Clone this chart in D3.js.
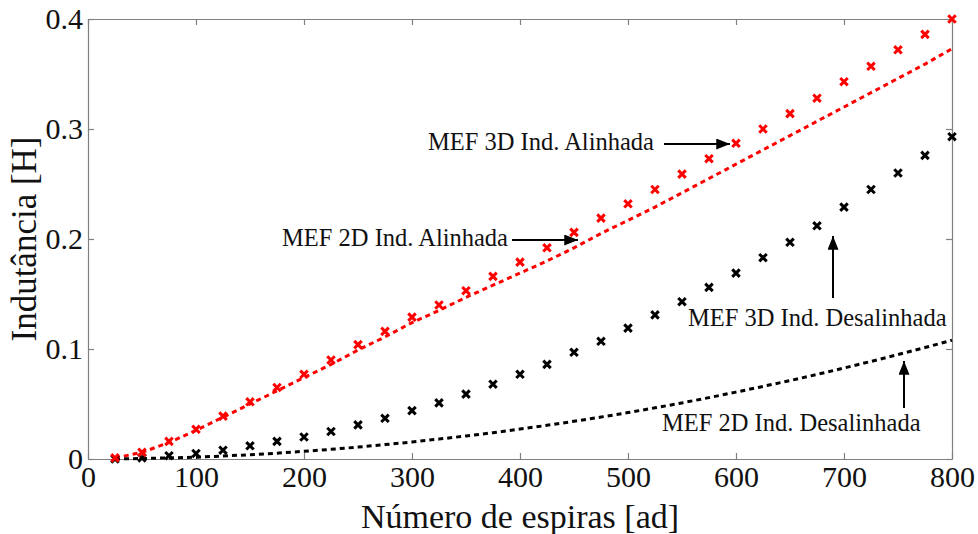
<!DOCTYPE html>
<html>
<head>
<meta charset="utf-8">
<script src="https://cdn.jsdelivr.net/npm/d3@7"></script>
<style>
  html, body { margin: 0; padding: 0; background: #fff; }
  svg { display: block; }
  svg text { font-family: "Liberation Serif", "Times New Roman", serif !important; }
</style>
</head>
<body>
<svg id="chart" width="978" height="534"></svg>
<script>
// Número de espiras
const turns = [25, 50, 75, 100, 125, 150, 175, 200, 225, 250, 275, 300, 325, 350, 375, 400,
               425, 450, 475, 500, 525, 550, 575, 600, 625, 650, 675, 700, 725, 750, 775, 800];

// MEF 3D, indutores alinhados (marcadores vermelhos)
const mef3dAlinhada = [0.001, 0.006, 0.016, 0.027, 0.039, 0.052, 0.065, 0.077, 0.090, 0.104, 0.116, 0.129,
                       0.140, 0.153, 0.166, 0.179, 0.192, 0.206, 0.219, 0.232, 0.245, 0.259, 0.273, 0.287,
                       0.300, 0.314, 0.328, 0.343, 0.357, 0.372, 0.386, 0.400];

// MEF 2D, indutores alinhados (linha pontilhada vermelha)
const mef2dAlinhada = [0.001, 0.006, 0.015, 0.026, 0.038, 0.050, 0.062, 0.074, 0.086, 0.099, 0.111, 0.124,
                       0.135, 0.147, 0.158, 0.169, 0.180, 0.192, 0.205, 0.217, 0.229, 0.242, 0.255, 0.268,
                       0.281, 0.294, 0.307, 0.320, 0.333, 0.346, 0.359, 0.373];

// MEF 3D, indutores desalinhados (marcadores pretos)
const mef3dDesalinhada = [0.000, 0.001, 0.003, 0.005, 0.008, 0.012, 0.016, 0.020, 0.025, 0.031, 0.037, 0.044,
                          0.051, 0.059, 0.068, 0.077, 0.086, 0.097, 0.107, 0.119, 0.131, 0.143, 0.156, 0.169,
                          0.183, 0.197, 0.212, 0.229, 0.245, 0.260, 0.276, 0.293];

// MEF 2D, indutores desalinhados (linha pontilhada preta)
const mef2dDesalinhada = [0.0001, 0.0004, 0.0010, 0.0017, 0.0027, 0.0039, 0.0053, 0.0070, 0.0088, 0.0108, 0.0131, 0.0155,
                          0.0181, 0.0209, 0.0239, 0.0272, 0.0306, 0.0343, 0.0381, 0.0422, 0.0465, 0.0510, 0.0558, 0.0608,
                          0.0660, 0.0713, 0.0769, 0.0827, 0.0887, 0.0949, 0.1013, 0.1080];

const xTicks = [0, 100, 200, 300, 400, 500, 600, 700, 800];
const yTicks = [0, 0.1, 0.2, 0.3, 0.4];

const xTitle = "Número de espiras [ad]";
const yTitle = "Indutância [H]";

const svg = d3.select("#chart");
const margin = { left: 88, top: 19, right: 26, bottom: 75 };
const W = 978, H = 534;

const x = d3.scaleLinear().domain([0, 800]).range([margin.left, W - margin.right]);
const y = d3.scaleLinear().domain([0, 0.4]).range([H - margin.bottom, margin.top]);

const frameColor = "#808080";

// Eixos com marcas internas nos quatro lados
const fmtY = d => d === 0 ? "0" : d3.format(".1f")(d);
const axisStyle = g => {
  g.attr("font-family", null).attr("font-size", null);
  g.select(".domain").attr("stroke", frameColor).attr("stroke-width", 1.2);
  g.selectAll(".tick line").attr("stroke", frameColor).attr("stroke-width", 1.2);
  g.selectAll(".tick text").attr("fill", "#111").style("font-size", "30px");
};

svg.append("g").attr("transform", `translate(0,${y(0)})`)
  .call(d3.axisBottom(x).tickValues(xTicks).tickFormat(d3.format("d")).tickSizeInner(-6).tickSizeOuter(0).tickPadding(7))
  .call(axisStyle);
svg.append("g").attr("transform", `translate(0,${y(0.4)})`)
  .call(d3.axisTop(x).tickValues(xTicks).tickFormat("").tickSizeInner(-6).tickSizeOuter(0))
  .call(axisStyle);
svg.append("g").attr("transform", `translate(${x(0)},0)`)
  .call(d3.axisLeft(y).tickValues(yTicks).tickFormat(fmtY).tickSizeInner(-6).tickSizeOuter(0).tickPadding(5))
  .call(axisStyle);
svg.append("g").attr("transform", `translate(${x(800)},0)`)
  .call(d3.axisRight(y).tickValues(yTicks).tickFormat("").tickSizeInner(-6).tickSizeOuter(0))
  .call(axisStyle);

// Títulos dos eixos
svg.append("text")
  .attr("x", (x(0) + x(800)) / 2).attr("y", 528)
  .attr("text-anchor", "middle").style("font-size", "34px").attr("fill", "#111")
  .text(xTitle);
svg.append("text")
  .attr("transform", `translate(36,${(y(0) + y(0.4)) / 2}) rotate(-90)`)
  .attr("text-anchor", "middle").style("font-size", "35px").attr("fill", "#111")
  .text(yTitle);

// Linhas pontilhadas (MEF 2D)
const line = vals => d3.line().x((d, i) => x(turns[i])).y(d => y(d))(vals);

svg.append("path").attr("d", line(mef2dDesalinhada))
  .attr("fill", "none").attr("stroke", "#000").attr("stroke-width", 3)
  .attr("stroke-dasharray", "5,4");
svg.append("path").attr("d", line(mef2dAlinhada))
  .attr("fill", "none").attr("stroke", "#ff0000").attr("stroke-width", 3)
  .attr("stroke-dasharray", "5,4");

// Marcadores em "x" (MEF 3D)
const cross = d3.symbol().type(d3.symbolX).size(38);
function markers(vals, color) {
  svg.append("g").selectAll("path").data(vals).join("path")
    .attr("transform", (d, i) => `translate(${x(turns[i])},${y(d)})`)
    .attr("d", cross)
    .attr("fill", "none").attr("stroke", color).attr("stroke-width", 3);
}
markers(mef3dDesalinhada, "#000");
markers(mef3dAlinhada, "#ff0000");

// Anotações com setas
svg.append("defs").append("marker")
  .attr("id", "head").attr("viewBox", "0 0 10 8")
  .attr("refX", 10).attr("refY", 4)
  .attr("markerWidth", 14).attr("markerHeight", 11).attr("markerUnits", "userSpaceOnUse")
  .attr("orient", "auto")
  .append("path").attr("d", "M0,0 L10,4 L0,8 Z").attr("fill", "#000");

const notes = [
  { text: "MEF 3D Ind. Alinhada",    tx: 428, ty: 150, anchor: "start", x1: 664, y1: 144, x2: 730, y2: 144 },
  { text: "MEF 2D Ind. Alinhada",    tx: 508, ty: 246, anchor: "end",   x1: 512, y1: 240, x2: 578, y2: 240 },
  { text: "MEF 3D Ind. Desalinhada", tx: 688, ty: 326, anchor: "start", x1: 833, y1: 298, x2: 833, y2: 236 },
  { text: "MEF 2D Ind. Desalinhada", tx: 662, ty: 431, anchor: "start", x1: 904, y1: 408, x2: 904, y2: 361 }
];
notes.forEach(n => {
  svg.append("line")
    .attr("x1", n.x1).attr("y1", n.y1).attr("x2", n.x2).attr("y2", n.y2)
    .attr("stroke", "#000").attr("stroke-width", 2)
    .attr("marker-end", "url(#head)");
  svg.append("text")
    .attr("x", n.tx).attr("y", n.ty).attr("text-anchor", n.anchor)
    .style("font-size", "24.5px").attr("fill", "#111")
    .text(n.text);
});
</script>
</body>
</html>
